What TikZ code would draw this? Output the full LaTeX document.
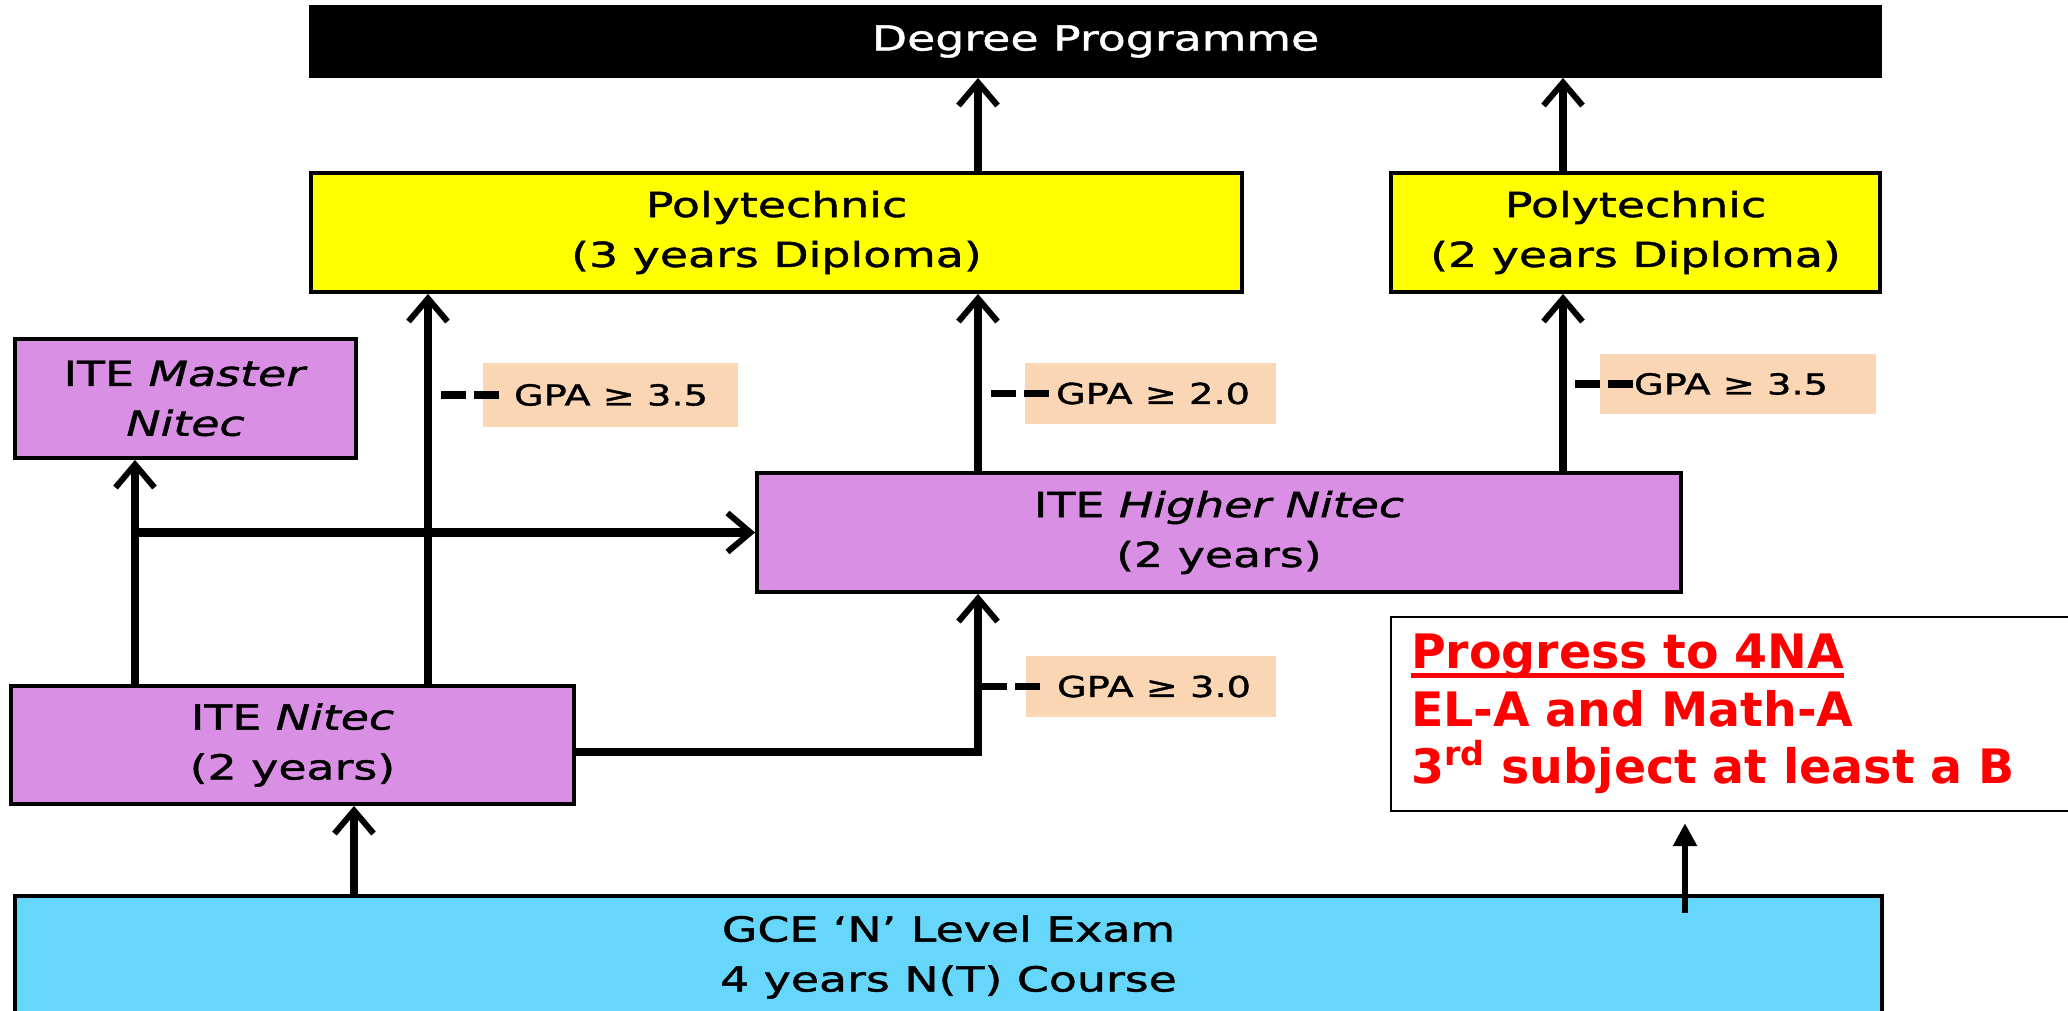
\documentclass[tikz,border=0pt]{standalone}
\usepackage{fontspec}
\setmainfont{DejaVu Sans}
\newfontfamily\boxfont{DejaVu Sans}[FakeStretch=1.33,FakeBold=1.3]
\usetikzlibrary{arrows.meta,positioning}

\definecolor{polyyellow}{RGB}{255,255,0}
\definecolor{itepurple}{RGB}{217,143,227}
\definecolor{gpapeach}{RGB}{251,214,181}
\definecolor{gcecyan}{RGB}{102,215,251}

\newcommand{\ulbar}[1]{\setbox0\hbox{#1}\rlap{\rule[-2.6pt]{\wd0}{1.4pt}}\box0}

\begin{document}
\begin{tikzpicture}

\def\bw{1.1pt}
\def\aw{2.3pt}
\def\dw{2pt}

\tikzset{stage/.style = {draw=black, line width=\bw, inner sep=0pt, align=center, font=\boxfont\fontsize{9.8}{14.2}\selectfont}}
\tikzset{gpa/.style = {fill=gpapeach, inner sep=0pt}}
\tikzset{gpatext/.style = {inner sep=0pt, font=\boxfont\fontsize{8.2}{10}\selectfont}}
\tikzset{arr/.style = {line width=\aw, -{Straight Barb[length=2.3mm,width=3.9mm,line width=1.7pt]}}}
\tikzset{gpadash/.style = {line width=\dw, dash pattern=on 0.25cm off 0.08cm}}

\useasboundingbox[fill=white] (0,0) rectangle (20.68,10.11);

% boxes
\node[stage, fill=black, text=white, minimum width=15.69cm, minimum height=0.69cm] (deg) at (10.955,9.695) {Degree Programme};
\node[stage, fill=polyyellow, minimum width=9.31cm, minimum height=1.19cm] (poly3) at (7.765,7.785) {Polytechnic\\(3 years Diploma)};
\node[stage, fill=polyyellow, minimum width=4.89cm, minimum height=1.19cm] (poly2) at (16.355,7.785) {Polytechnic\\(2 years Diploma)};
\node[stage, fill=itepurple, minimum width=3.41cm, minimum height=1.19cm] (master) at (1.855,6.125) {ITE \textit{Master}\\\textit{Nitec}};
\node[stage, fill=itepurple, minimum width=9.24cm, minimum height=1.19cm] (higher) at (12.19,4.785) {ITE \textit{Higher Nitec}\\(2 years)};
\node[stage, fill=itepurple, minimum width=5.63cm, minimum height=1.18cm] (nitec) at (2.925,2.66) {ITE \textit{Nitec}\\(2 years)};
\node[stage, fill=gcecyan, minimum width=18.67cm, minimum height=1.22cm] (gce) at (9.485,0.54) {GCE ‘N’ Level Exam\\4 years N(T) Course};
\node[draw=black, line width=0.7pt, minimum width=7.09cm, minimum height=1.94cm, text width=6.69cm, inner xsep=0.2cm, inner ysep=0pt, align=left, text=red, font=\bfseries\fontsize{13.5}{16.3}\selectfont] (progress) at (17.455,2.97) {\ulbar{Progress to 4NA}\\EL-A and Math-A\\3\textsuperscript{rd} subject at least a B};

\node[gpa, minimum width=2.55cm, minimum height=0.64cm] (gpaA) at (6.105,6.16) {};
\node[gpa, minimum width=2.51cm, minimum height=0.61cm] (gpaB) at (11.505,6.175) {};
\node[gpa, minimum width=2.76cm, minimum height=0.60cm] (gpaC) at (17.38,6.27) {};
\node[gpa, minimum width=2.50cm, minimum height=0.61cm] (gpaD) at (11.51,3.245) {};

% columns
\coordinate (colA) at (1.35,0);
\coordinate (colB) at (4.28,0);
\coordinate (colC) at (9.78,0);
\coordinate (colD) at (15.63,0);
\coordinate (colE) at (3.54,0);
\coordinate (colF) at (16.85,0.98);

\draw[arr] (poly3.north -| colC) -- (deg.south -| colC);
\draw[arr] (poly2.north -| colD) -- (deg.south -| colD);
\draw[arr] (higher.north -| colC) -- (poly3.south -| colC);
\draw[arr] (higher.north -| colD) -- (poly2.south -| colD);
\draw[arr] (nitec.north -| colB) -- (poly3.south -| colB);
\draw[arr] (nitec.north -| colA) -- (master.south -| colA);
\draw[arr] (colA |- higher.west) -- (higher.west);
\draw[arr] ([yshift=-0.07cm]nitec.east) -| (higher.south -| colC);
\draw[arr] (gce.north -| colE) -- (nitec.south -| colE);
\draw[line width=1.6pt, -{Triangle[length=2.3mm,width=2.3mm]}, shorten >=0.11cm] (colF) -- (progress.south -| colF);

% GPA
\draw[gpadash] ([xshift=0.13cm]colB |- gpaA) -- ([xshift=0.17cm]gpaA.west);
\draw[gpadash] ([xshift=0.13cm]colC |- gpaB) -- ([xshift=0.25cm]gpaB.west);
\draw[gpadash] ([xshift=0.12cm]colD |- gpaC) -- ([xshift=0.34cm]gpaC.west);
\draw[gpadash] ([xshift=0.04cm]colC |- gpaD) -- ([xshift=0.17cm]gpaD.west);

\node[gpatext, right=0.31cm of gpaA.west] (gpaAt) {GPA ≥ 3.5};
\node[gpatext, right=0.31cm of gpaB.west] (gpaBt) {GPA ≥ 2.0};
\node[gpatext, right=0.34cm of gpaC.west] (gpaCt) {GPA ≥ 3.5};
\node[gpatext, right=0.31cm of gpaD.west] (gpaDt) {GPA ≥ 3.0};

\end{tikzpicture}
\end{document}
